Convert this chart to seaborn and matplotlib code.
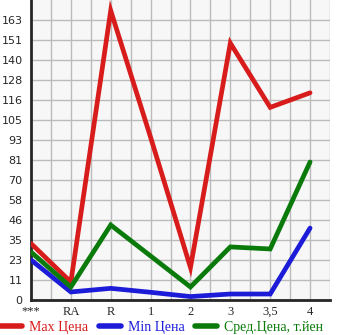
import matplotlib
matplotlib.use("Agg")
import matplotlib.pyplot as plt
import seaborn as sns
import pandas as pd
import numpy as np
from matplotlib.lines import Line2D

categories = ["***", "RA", "R", "1", "2", "3", "3,5", "4"]
max_price = [33, 10.5, 169, 95, 19, 150, 112.5, 121]
min_price = [23.4, 4.7, 6.8, 4.5, 2, 3.5, 3.5, 42]
avg_price = [28, 7.6, 43.8, 25.7, 7.6, 31, 29.8, 80.6]
series_names = ["Max Цена", "Min Цена", "Сред.Цена, т.йен"]
colors = ["#d81c1c", "#1c1cd8", "#0a7a0a"]
ytick_labels = ["0", "11", "23", "35", "46", "58", "70", "81", "93", "105",
                "116", "128", "140", "151", "163"]
ystep = 11.68

sns.set_style("white")
plt.rcParams["font.family"] = ["DejaVu Sans"]

rows = []
for name, vals in zip(series_names, [max_price, min_price, avg_price]):
    for i, (c, v) in enumerate(zip(categories, vals)):
        rows.append({"x": i, "cat": c, "value": v, "series": name})
df = pd.DataFrame(rows)

fig = plt.figure(figsize=(3.45, 3.35), dpi=100)
ax = fig.add_axes([31/345, 35/335, 299/345, 300/335])
ax.set_facecolor("#f7f7f7")

sns.lineplot(data=df, x="x", y="value", hue="series", palette=colors,
             hue_order=series_names, sort=False, linewidth=3.4, legend=False,
             ax=ax, zorder=3)
for l in ax.lines:
    l.set_solid_capstyle("round")
    l.set_solid_joinstyle("miter")

ax.set_xlim(0, 7.5)
ax.set_ylim(0, 15 * ystep)
ax.set_xticks(range(len(categories)))
ax.set_xticklabels(categories, family="Liberation Serif", fontsize=9)
ax.set_xticks(np.arange(0.5, 8, 0.5)[::2], minor=True)
ax.tick_params(axis="x", which="major", length=0, pad=4)
ax.tick_params(axis="x", which="minor", length=4, width=1, color="black", direction="out")
ax.set_yticks([i * ystep for i in range(len(ytick_labels))])
ax.set_yticklabels(ytick_labels, fontsize=8)
ax.tick_params(axis="y", length=4, width=1, color="black", direction="out", pad=2)
ax.set_xlabel("")
ax.set_ylabel("")

for xv in np.arange(0.5, 7.5, 0.5):
    ax.axvline(xv, color="#bbbbbb", linewidth=1, zorder=1)
ax.grid(axis="y", color="#bbbbbb", linewidth=1, zorder=1)
ax.set_axisbelow(True)

for s in ["top", "right"]:
    ax.spines[s].set_visible(False)
ax.spines["left"].set_linewidth(2)
ax.spines["bottom"].set_linewidth(2)
ax.axvline(7.5, color="#bbbbbb", linewidth=1, zorder=1)

handles = [Line2D([0], [0], color=c, linewidth=4, solid_capstyle="round") for c in colors]
leg = fig.legend(handles, series_names, loc="lower left", bbox_to_anchor=(0.0, 0.003),
                 ncol=3, frameon=False, handlelength=1.6, columnspacing=0.75,
                 handletextpad=0.5, borderpad=0, borderaxespad=0,
                 prop={"family": "Liberation Serif", "size": 10})
for t, c in zip(leg.get_texts(), colors):
    t.set_color(c)

fig.savefig("out.png", dpi=100)
